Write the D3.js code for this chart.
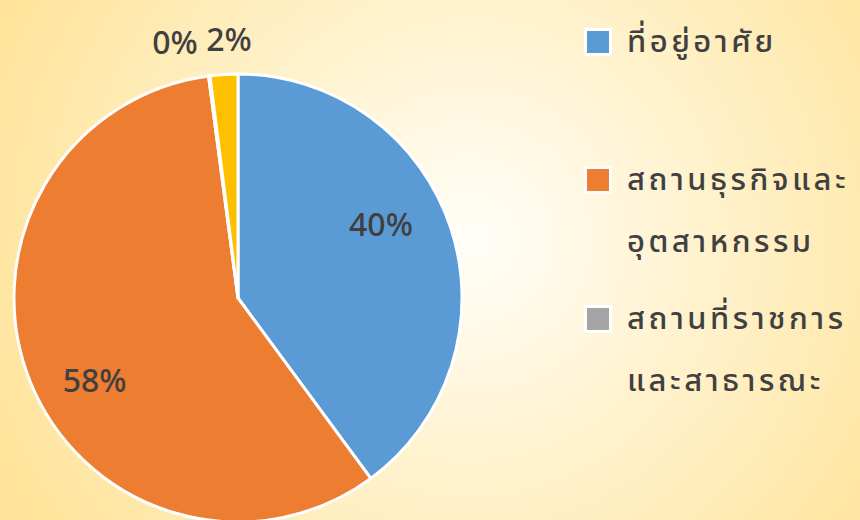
<!DOCTYPE html>
<html>
<head>
<meta charset="utf-8">
<script src="https://cdn.jsdelivr.net/npm/d3@7"></script>
<style>
  body { margin: 0; }
  text { font-family: "Noto Sans Thai", "Noto Sans Thai Looped", "Noto Sans", "DejaVu Sans", sans-serif; fill: #404040; }
</style>
</head>
<body>
<script>
// data
var categories = ["ที่อยู่อาศัย", "สถานธุรกิจและอุตสาหกรรม", "สถานที่ราชการและสาธารณะ", "อื่นๆ"];
var values = [39.9, 58.0, 0.1, 2.0];
var pctLabels = ["40%", "58%", "0%", "2%"];
// legend text split into lines as shown
var legendLines = [["ที่อยู่อาศัย"], ["สถานธุรกิจและ", "อุตสาหกรรม"], ["สถานที่ราชการ", "และสาธารณะ"]];
var colors = ["#5B9BD5", "#ED7D31", "#A5A5A5", "#FFC000"];

var width = 860, height = 520;
var cx = 238, cy = 298, radius = 224;

var svg = d3.select("body")
  .append("svg")
    .attr("width", width)
    .attr("height", height);

// background gradient
var grad = svg.append("defs").append("radialGradient")
  .attr("id", "bg")
  .attr("gradientUnits", "userSpaceOnUse")
  .attr("cx", 470).attr("cy", 240).attr("r", 520);
grad.append("stop").attr("offset", "0%").attr("stop-color", "#FFFEF8");
grad.append("stop").attr("offset", "100%").attr("stop-color", "#FFE399");

svg.append("rect")
  .attr("width", width).attr("height", height)
  .attr("fill", "url(#bg)");

var pie = d3.pie().sort(null).value(function(d){ return d; });
var arcs = pie(values);

var arc = d3.arc().innerRadius(0).outerRadius(radius);

var g = svg.append("g")
  .attr("transform", "translate(" + cx + "," + cy + ")");

g.selectAll("path")
  .data(arcs)
  .enter()
  .append("path")
    .attr("d", arc)
    .attr("fill", function(d, i){ return colors[i]; })
    .attr("stroke", "#fff")
    .attr("stroke-width", 3)
    .attr("stroke-linejoin", "round");

// percentage labels (nudged like excel's best fit)
var labelArc = d3.arc().innerRadius(radius * 0.7).outerRadius(radius * 0.7);
var nudge = [[-6, -24], [2, 24]];

g.selectAll("text.pct")
  .data(arcs)
  .enter()
  .append("text")
    .attr("class", "pct")
    .attr("font-size", 32)
    .attr("font-weight", 500)
    .attr("text-anchor", "middle")
    .attr("transform", function(d, i){
      var c;
      if (i == 2) c = [-63, -255];
      else if (i == 3) c = [-9, -258];
      else {
        c = labelArc.centroid(d);
        c = [c[0] + nudge[i][0], c[1] + nudge[i][1]];
      }
      return "translate(" + c[0] + "," + (c[1] + 11) + ")";
    })
    .text(function(d, i){ return pctLabels[i]; });

// legend
var legend = svg.append("g").attr("transform", "translate(584,0)");
var rowY = [42, 180, 319];

legendLines.forEach(function(lines, i){
  var row = legend.append("g").attr("transform", "translate(0," + rowY[i] + ")");
  row.append("rect")
    .attr("x", 1.5).attr("y", -12.5)
    .attr("width", 25).attr("height", 25)
    .attr("fill", colors[i])
    .attr("stroke", "#fff")
    .attr("stroke-width", 3);
  lines.forEach(function(t, j){
    row.append("text")
      .attr("x", 43)
      .attr("y", 10 + j * 62)
      .attr("font-size", 31)
      .attr("font-weight", 500)
      .attr("letter-spacing", 3.5)
      .text(t);
  });
});
</script>
</body>
</html>
